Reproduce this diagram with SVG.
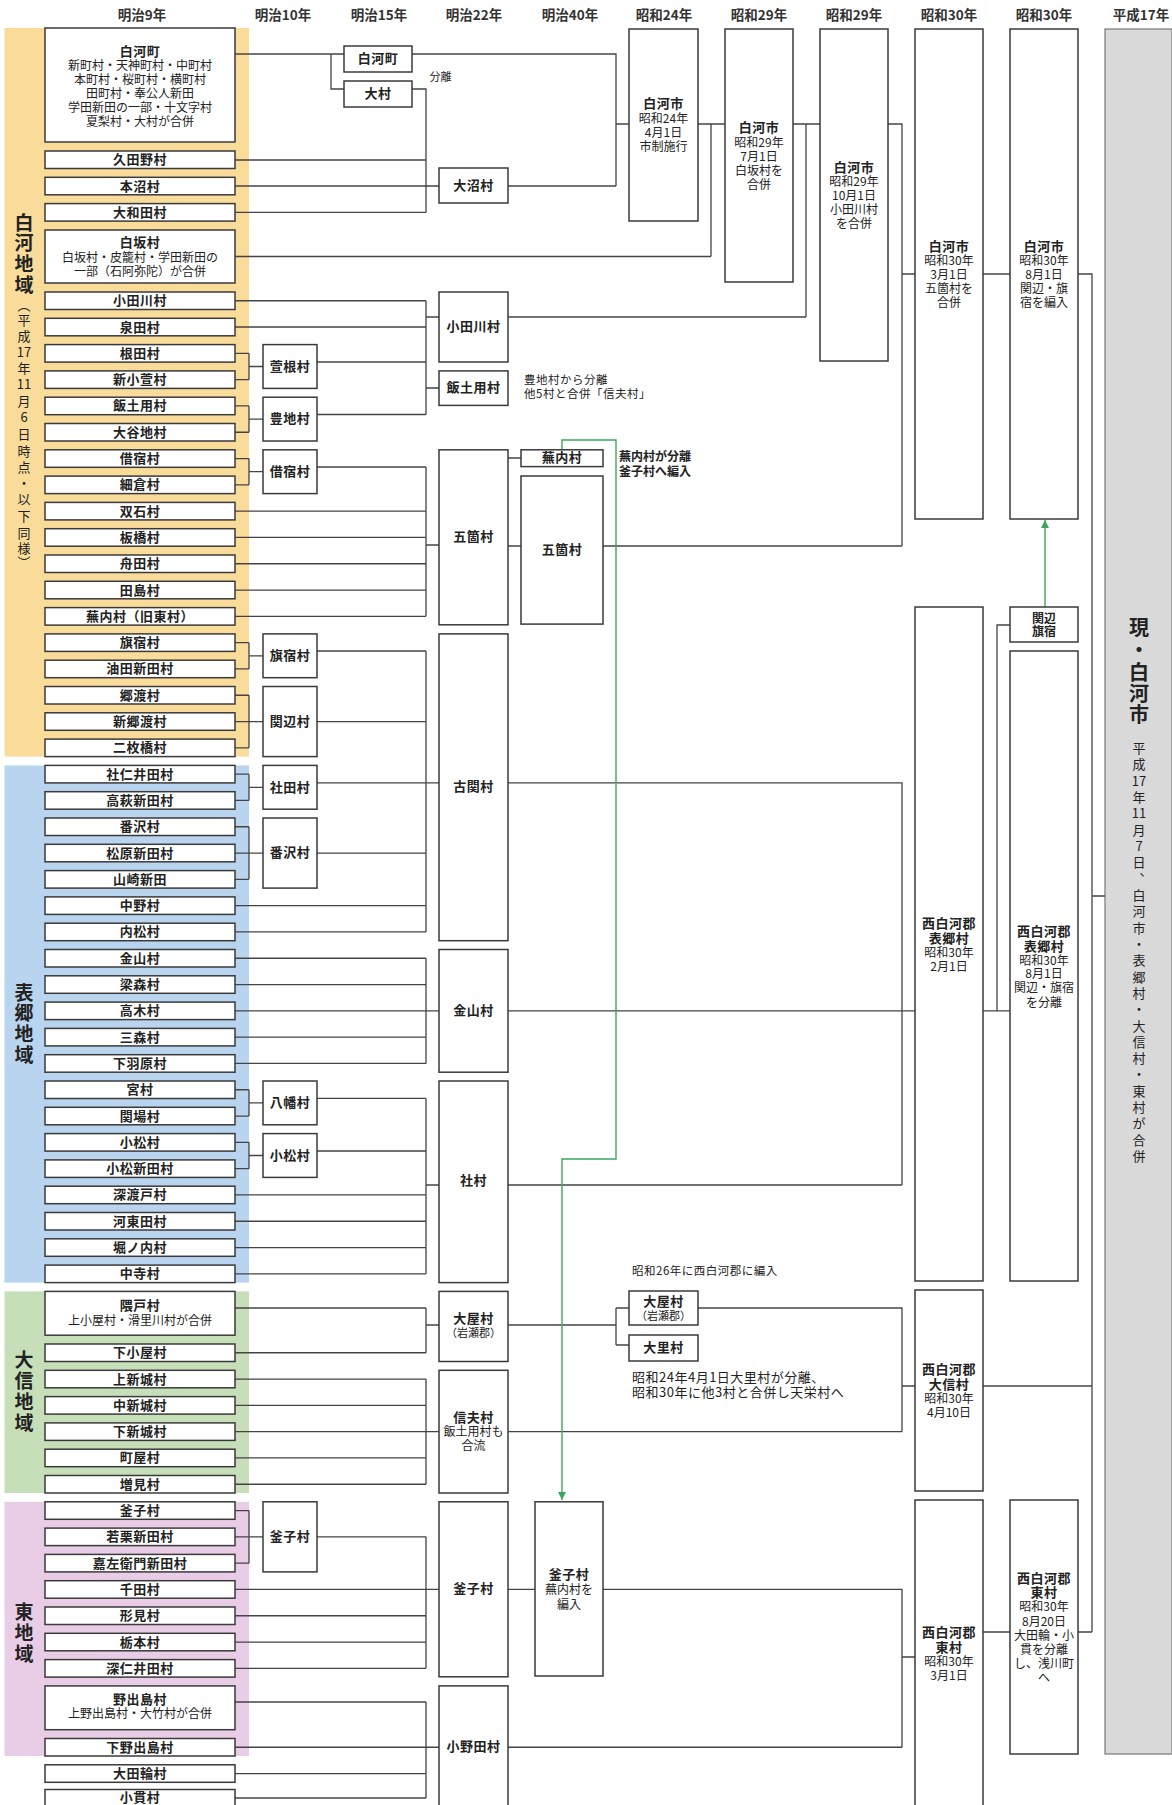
<svg xmlns="http://www.w3.org/2000/svg" width="1172" height="1805" viewBox="0 0 1172 1805">
<defs>
<style>
text,tspan{font-family:"Noto Sans CJK JP","Noto Sans CJK SC",sans-serif;fill:#222;text-anchor:middle;dominant-baseline:central}
text{transform:translateY(-1.2px)}
.bx{fill:#fff;stroke:#3a3a3a;stroke-width:1.5}
.t{font-size:13px;font-weight:700;letter-spacing:.5px}
.s{font-size:12px;font-weight:400;letter-spacing:0}
.sb{font-size:12px;font-weight:700}
.s11{font-size:11px;font-weight:400;letter-spacing:0}
.h{font-size:13.5px;font-weight:700;fill:#333}
.r{font-size:19px;font-weight:700}
.rg{font-size:20px;font-weight:700}
.rv{font-size:13px;font-weight:400}
.an{font-size:11.5px;text-anchor:start;letter-spacing:.5px}
.anb{font-size:12px;font-weight:700;text-anchor:start}
.an2{font-size:13px;text-anchor:start;letter-spacing:.5px}
.cn{fill:none;stroke:#444;stroke-width:1.3}
.gl{fill:none;stroke:#3aa85c;stroke-width:1.4}
</style>
<marker id="ag" viewBox="0 0 10 10" refX="10" refY="5" markerWidth="8" markerHeight="8" orient="auto" markerUnits="userSpaceOnUse"><path d="M0,0 L10,5 L0,10z" fill="#3aa85c"/></marker>
</defs>
<rect width="1172" height="1805" fill="#fff"/>

<g id="bands">
<rect x="4.5" y="28" width="244.5" height="728.6" fill="#f9dc9a"/>
<rect x="4.5" y="765.4" width="244.5" height="517.2" fill="#b8d4ee"/>
<rect x="4.5" y="1291.4" width="244.5" height="201.6" fill="#c6dfb8"/>
<rect x="4.5" y="1501.8" width="244.5" height="254.2" fill="#e9cce5"/>
<rect x="1105" y="29" width="67" height="1725" fill="#d9d9d9" stroke="#777" stroke-width="1.2"/>
</g>

<g id="headers">
<text class="h" x="142" y="15">明治9年</text>
<text class="h" x="283" y="15">明治10年</text>
<text class="h" x="379" y="15">明治15年</text>
<text class="h" x="474" y="15">明治22年</text>
<text class="h" x="570" y="15">明治40年</text>
<text class="h" x="664" y="15">昭和24年</text>
<text class="h" x="759" y="15">昭和29年</text>
<text class="h" x="854" y="15">昭和29年</text>
<text class="h" x="949" y="15">昭和30年</text>
<text class="h" x="1044" y="15">昭和30年</text>
<text class="h" x="1141" y="15">平成17年</text>
</g>

<g id="region-labels">
<text class="r"><tspan class="r" x="24" y="222">白</tspan><tspan class="r" x="24" y="242">河</tspan><tspan class="r" x="24" y="263">地</tspan><tspan class="r" x="24" y="284">域</tspan><tspan class="rv" x="24" y="305">︵</tspan><tspan class="rv" x="24" y="320">平</tspan><tspan class="rv" x="24" y="336">成</tspan><tspan class="rv" x="24" y="352">17</tspan><tspan class="rv" x="24" y="368">年</tspan><tspan class="rv" x="24" y="384">11</tspan><tspan class="rv" x="24" y="401">月</tspan><tspan class="rv" x="24" y="417">6</tspan><tspan class="rv" x="24" y="434">日</tspan><tspan class="rv" x="24" y="451">時</tspan><tspan class="rv" x="24" y="467">点</tspan><tspan class="rv" x="24" y="483">・</tspan><tspan class="rv" x="24" y="499">以</tspan><tspan class="rv" x="24" y="516">下</tspan><tspan class="rv" x="24" y="533">同</tspan><tspan class="rv" x="24" y="548">様</tspan><tspan class="rv" x="24" y="562">︶</tspan></text>
<text class="r"><tspan class="r" x="24" y="992">表</tspan><tspan class="r" x="24" y="1012">郷</tspan><tspan class="r" x="24" y="1033">地</tspan><tspan class="r" x="24" y="1054">域</tspan></text>
<text class="r"><tspan class="r" x="24" y="1359">大</tspan><tspan class="r" x="24" y="1380">信</tspan><tspan class="r" x="24" y="1401">地</tspan><tspan class="r" x="24" y="1422">域</tspan></text>
<text class="r"><tspan class="r" x="24" y="1611">東</tspan><tspan class="r" x="24" y="1632">地</tspan><tspan class="r" x="24" y="1653">域</tspan></text>
</g>

<g id="connectors">
<path class="cn" d="M235,54 H344 M331,54 V89 H344 M412,54 H616 V186 M508,186 H616 M616,124 H629"/>
<path class="cn" d="M412,89 H426 V212.4 M235,160 H426 M235,186 H439 M235,212.4 H426"/>
<path class="cn" d="M235,256.5 H711 M698,124 H725 M711,124 V256.5"/>
<path class="cn" d="M793,124 H820 M806,124 V317 M508,317 H806"/>
<path class="cn" d="M888,124 H902 V546 M902,274 H915 M603,546 H902"/>
<path class="cn" d="M983,274 H1010 M1078,274 H1092 V1632 M1092,896 H1105 M983,1386 H1092 M1078,1632 H1092"/>
<path class="cn" d="M235,300.75 H426 M235,327 H426 M317,362 H426 M317,414.5 H426 M426,300.75 V414.5 M426,317 H439 M426,388 H439"/>
<path class="cn" d="M235,353.35 H249 M235,379.65 H249 M249,353.35 V379.65 M249,366.5 H263"/>
<path class="cn" d="M235,405.95 H249 M235,432.25 H249 M249,405.95 V432.25 M249,419.1 H263"/>
<path class="cn" d="M235,458.55 H249 M235,484.85 H249 M249,458.55 V484.85 M249,471.7 H263"/>
<path class="cn" d="M317,467 H426 M235,511.15 H426 M235,537.45 H426 M235,563.75 H426 M235,590.05 H426 M235,616.35 H426 M426,467 V616.35 M426,545 H439 M508,458 H521 M508,546 H521"/>
<path class="cn" d="M235,642.65 H249 M235,668.95 H249 M249,642.65 V668.95 M249,655.8 H263 M317,651 H426"/>
<path class="cn" d="M235,695.25 H249 M235,721.55 H263 M235,747.85 H249 M249,695.25 V747.85 M317,721.55 H426"/>
<path class="cn" d="M235,774.15 H249 M235,800.45 H249 M249,774.15 V800.45 M249,787.3 H263 M317,782.8 H439"/>
<path class="cn" d="M235,826.75 H249 M235,853.05 H263 M235,879.35 H249 M249,826.75 V879.35 M317,853.05 H426"/>
<path class="cn" d="M235,905.65 H426 M235,931.95 H426 M426,651 V931.95 M508,782.8 H902 V1185"/>
<path class="cn" d="M235,958.25 H426 M235,984.55 H426 M235,1010.85 H439 M235,1037.15 H426 M235,1063.45 H426 M426,958.25 V1063.45 M508,1010.85 H915"/>
<path class="cn" d="M235,1089.75 H249 M235,1116.05 H249 M249,1089.75 V1116.05 M249,1102.9 H263 M317,1098.4 H426"/>
<path class="cn" d="M235,1142.35 H249 M235,1168.65 H249 M249,1142.35 V1168.65 M249,1155.5 H263 M317,1151 H426"/>
<path class="cn" d="M235,1194.95 H426 M235,1221.25 H426 M235,1247.55 H426 M235,1273.85 H426 M426,1098.4 V1273.85 M426,1185 H439 M508,1185 H902"/>
<path class="cn" d="M235,1308 H426 M235,1352.75 H426 M426,1308 V1352.75 M426,1325 H439 M508,1325 H616 M616,1308 V1345 M616,1308 H629 M616,1345 H629 M698,1308 H902 V1431.65 M902,1386 H915"/>
<path class="cn" d="M235,1379.05 H426 M235,1405.35 H426 M235,1431.65 H439 M235,1457.95 H426 M235,1484.25 H426 M426,1379.05 V1484.25 M508,1431.65 H902"/>
<path class="cn" d="M235,1510.55 H249 M235,1536.85 H263 M235,1563.15 H249 M249,1510.55 V1563.15 M317,1536.85 H426"/>
<path class="cn" d="M235,1589.45 H439 M235,1615.75 H426 M235,1642.05 H426 M235,1668.35 H426 M426,1536.85 V1668.35 M508,1589.45 H535 M603,1589.45 H902 V1747.25 M902,1657 H915"/>
<path class="cn" d="M235,1702 H426 M235,1747.25 H439 M235,1773.55 H426 M235,1798 H426 M426,1702 V1798 M508,1747.25 H902"/>
<path class="cn" d="M983,1010.85 H1010 M997,1010.85 V625 H1010 M983,1632 H1010"/>
<path class="gl" d="M562,449.8 V440 H616 V1159 H562 V1500" marker-end="url(#ag)"/>
<path class="gl" d="M1045,607 V520" marker-end="url(#ag)"/>
</g>

<g id="annotations">
<text class="s11" x="440.5" y="77">分離</text>
<text class="an" x="524" y="380">豊地村から分離</text>
<text class="an" x="524" y="394">他5村と合併「信夫村」</text>
<text class="anb" x="619" y="457">蕪内村が分離</text>
<text class="anb" x="619" y="472">釜子村へ編入</text>
<text class="an" x="632" y="1271">昭和26年に西白河郡に編入</text>
<text class="an2" x="632" y="1378">昭和24年4月1日大里村が分離、</text>
<text class="an2" x="632" y="1393">昭和30年に他3村と合併し天栄村へ</text>
</g>

<g id="m9-01"><rect class="bx" x="45" y="28" width="190" height="114"/><text class="s"><tspan class="t" x="140" y="51">白河町</tspan><tspan class="s" x="140" y="65">新町村・天神町村・中町村</tspan><tspan class="s" x="140" y="79">本町村・桜町村・横町村</tspan><tspan class="s" x="140" y="93">田町村・奉公人新田</tspan><tspan class="s" x="140" y="107">学田新田の一部・十文字村</tspan><tspan class="s" x="140" y="121">夏梨村・大村が合併</tspan></text></g>
<g id="m9-02"><rect class="bx" x="45" y="151" width="190" height="17.5"/><text class="t" x="140" y="160">久田野村</text></g>
<g id="m9-03"><rect class="bx" x="45" y="177.3" width="190" height="17.5"/><text class="t" x="140" y="186.3">本沼村</text></g>
<g id="m9-04"><rect class="bx" x="45" y="203.6" width="190" height="17.5"/><text class="t" x="140" y="212.6">大和田村</text></g>
<g id="m9-05"><rect class="bx" x="45" y="230" width="190" height="53"/><text class="s"><tspan class="t" x="140" y="242">白坂村</tspan><tspan class="s" x="140" y="257">白坂村・皮籠村・学田新田の</tspan><tspan class="s" x="140" y="271">一部（石阿弥陀）が合併</tspan></text></g>
<g id="m9-06"><rect class="bx" x="45" y="292" width="190" height="17.5"/><text class="t" x="140" y="301">小田川村</text></g>
<g id="m9-07"><rect class="bx" x="45" y="318.3" width="190" height="17.5"/><text class="t" x="140" y="327.3">泉田村</text></g>
<g id="m9-08"><rect class="bx" x="45" y="344.6" width="190" height="17.5"/><text class="t" x="140" y="353.6">根田村</text></g>
<g id="m9-09"><rect class="bx" x="45" y="370.9" width="190" height="17.5"/><text class="t" x="140" y="379.9">新小萱村</text></g>
<g id="m9-10"><rect class="bx" x="45" y="397.2" width="190" height="17.5"/><text class="t" x="140" y="406.2">飯土用村</text></g>
<g id="m9-11"><rect class="bx" x="45" y="423.5" width="190" height="17.5"/><text class="t" x="140" y="432.5">大谷地村</text></g>
<g id="m9-12"><rect class="bx" x="45" y="449.8" width="190" height="17.5"/><text class="t" x="140" y="458.8">借宿村</text></g>
<g id="m9-13"><rect class="bx" x="45" y="476.1" width="190" height="17.5"/><text class="t" x="140" y="485.1">細倉村</text></g>
<g id="m9-14"><rect class="bx" x="45" y="502.4" width="190" height="17.5"/><text class="t" x="140" y="511.4">双石村</text></g>
<g id="m9-15"><rect class="bx" x="45" y="528.7" width="190" height="17.5"/><text class="t" x="140" y="537.7">板橋村</text></g>
<g id="m9-16"><rect class="bx" x="45" y="555" width="190" height="17.5"/><text class="t" x="140" y="564">舟田村</text></g>
<g id="m9-17"><rect class="bx" x="45" y="581.3" width="190" height="17.5"/><text class="t" x="140" y="590.3">田島村</text></g>
<g id="m9-18"><rect class="bx" x="45" y="607.6" width="190" height="17.5"/><text class="t" x="140" y="616.6">蕪内村（旧東村）</text></g>
<g id="m9-19"><rect class="bx" x="45" y="633.9" width="190" height="17.5"/><text class="t" x="140" y="642.9">旗宿村</text></g>
<g id="m9-20"><rect class="bx" x="45" y="660.2" width="190" height="17.5"/><text class="t" x="140" y="669.2">油田新田村</text></g>
<g id="m9-21"><rect class="bx" x="45" y="686.5" width="190" height="17.5"/><text class="t" x="140" y="695.5">郷渡村</text></g>
<g id="m9-22"><rect class="bx" x="45" y="712.8" width="190" height="17.5"/><text class="t" x="140" y="721.8">新郷渡村</text></g>
<g id="m9-23"><rect class="bx" x="45" y="739.1" width="190" height="17.5"/><text class="t" x="140" y="748.1">二枚橋村</text></g>
<g id="m9-24"><rect class="bx" x="45" y="765.4" width="190" height="17.5"/><text class="t" x="140" y="774.4">社仁井田村</text></g>
<g id="m9-25"><rect class="bx" x="45" y="791.7" width="190" height="17.5"/><text class="t" x="140" y="800.7">高萩新田村</text></g>
<g id="m9-26"><rect class="bx" x="45" y="818" width="190" height="17.5"/><text class="t" x="140" y="827">番沢村</text></g>
<g id="m9-27"><rect class="bx" x="45" y="844.3" width="190" height="17.5"/><text class="t" x="140" y="853.3">松原新田村</text></g>
<g id="m9-28"><rect class="bx" x="45" y="870.6" width="190" height="17.5"/><text class="t" x="140" y="879.6">山崎新田</text></g>
<g id="m9-29"><rect class="bx" x="45" y="896.9" width="190" height="17.5"/><text class="t" x="140" y="905.9">中野村</text></g>
<g id="m9-30"><rect class="bx" x="45" y="923.2" width="190" height="17.5"/><text class="t" x="140" y="932.2">内松村</text></g>
<g id="m9-31"><rect class="bx" x="45" y="949.5" width="190" height="17.5"/><text class="t" x="140" y="958.5">金山村</text></g>
<g id="m9-32"><rect class="bx" x="45" y="975.8" width="190" height="17.5"/><text class="t" x="140" y="984.8">梁森村</text></g>
<g id="m9-33"><rect class="bx" x="45" y="1002.1" width="190" height="17.5"/><text class="t" x="140" y="1011.1">高木村</text></g>
<g id="m9-34"><rect class="bx" x="45" y="1028.4" width="190" height="17.5"/><text class="t" x="140" y="1037.4">三森村</text></g>
<g id="m9-35"><rect class="bx" x="45" y="1054.7" width="190" height="17.5"/><text class="t" x="140" y="1063.7">下羽原村</text></g>
<g id="m9-36"><rect class="bx" x="45" y="1081" width="190" height="17.5"/><text class="t" x="140" y="1090">宮村</text></g>
<g id="m9-37"><rect class="bx" x="45" y="1107.3" width="190" height="17.5"/><text class="t" x="140" y="1116.3">関場村</text></g>
<g id="m9-38"><rect class="bx" x="45" y="1133.6" width="190" height="17.5"/><text class="t" x="140" y="1142.6">小松村</text></g>
<g id="m9-39"><rect class="bx" x="45" y="1159.9" width="190" height="17.5"/><text class="t" x="140" y="1168.9">小松新田村</text></g>
<g id="m9-40"><rect class="bx" x="45" y="1186.2" width="190" height="17.5"/><text class="t" x="140" y="1195.2">深渡戸村</text></g>
<g id="m9-41"><rect class="bx" x="45" y="1212.5" width="190" height="17.5"/><text class="t" x="140" y="1221.5">河東田村</text></g>
<g id="m9-42"><rect class="bx" x="45" y="1238.8" width="190" height="17.5"/><text class="t" x="140" y="1247.8">堀ノ内村</text></g>
<g id="m9-43"><rect class="bx" x="45" y="1265.1" width="190" height="17.5"/><text class="t" x="140" y="1274.1">中寺村</text></g>
<g id="m9-44"><rect class="bx" x="45" y="1291.4" width="190" height="43.8"/><text class="s"><tspan class="t" x="140" y="1305">隈戸村</tspan><tspan class="s" x="140" y="1320">上小屋村・滑里川村が合併</tspan></text></g>
<g id="m9-45"><rect class="bx" x="45" y="1344" width="190" height="17.5"/><text class="t" x="140" y="1353">下小屋村</text></g>
<g id="m9-46"><rect class="bx" x="45" y="1370.3" width="190" height="17.5"/><text class="t" x="140" y="1379.3">上新城村</text></g>
<g id="m9-47"><rect class="bx" x="45" y="1396.6" width="190" height="17.5"/><text class="t" x="140" y="1405.6">中新城村</text></g>
<g id="m9-48"><rect class="bx" x="45" y="1422.9" width="190" height="17.5"/><text class="t" x="140" y="1431.9">下新城村</text></g>
<g id="m9-49"><rect class="bx" x="45" y="1449.2" width="190" height="17.5"/><text class="t" x="140" y="1458.2">町屋村</text></g>
<g id="m9-50"><rect class="bx" x="45" y="1475.5" width="190" height="17.5"/><text class="t" x="140" y="1484.5">増見村</text></g>
<g id="m9-51"><rect class="bx" x="45" y="1501.8" width="190" height="17.5"/><text class="t" x="140" y="1510.8">釜子村</text></g>
<g id="m9-52"><rect class="bx" x="45" y="1528.1" width="190" height="17.5"/><text class="t" x="140" y="1537.1">若栗新田村</text></g>
<g id="m9-53"><rect class="bx" x="45" y="1554.4" width="190" height="17.5"/><text class="t" x="140" y="1563.4">嘉左衛門新田村</text></g>
<g id="m9-54"><rect class="bx" x="45" y="1580.7" width="190" height="17.5"/><text class="t" x="140" y="1589.7">千田村</text></g>
<g id="m9-55"><rect class="bx" x="45" y="1607" width="190" height="17.5"/><text class="t" x="140" y="1616">形見村</text></g>
<g id="m9-56"><rect class="bx" x="45" y="1633.3" width="190" height="17.5"/><text class="t" x="140" y="1642.3">栃本村</text></g>
<g id="m9-57"><rect class="bx" x="45" y="1659.6" width="190" height="17.5"/><text class="t" x="140" y="1668.6">深仁井田村</text></g>
<g id="m9-58"><rect class="bx" x="45" y="1685.9" width="190" height="43.8"/><text class="s"><tspan class="t" x="140" y="1699">野出島村</tspan><tspan class="s" x="140" y="1713">上野出島村・大竹村が合併</tspan></text></g>
<g id="m9-59"><rect class="bx" x="45" y="1738.5" width="190" height="17.5"/><text class="t" x="140" y="1747.5">下野出島村</text></g>
<g id="m9-60"><rect class="bx" x="45" y="1764.8" width="190" height="17.5"/><text class="t" x="140" y="1773.8">大田輪村</text></g>
<g id="m9-61"><rect class="bx" x="45" y="1789.5" width="190" height="17.5"/><text class="t" x="140" y="1797.5">小貫村</text></g>

<g id="m10-kayane"><rect class="bx" x="263" y="344.6" width="54" height="43.8"/><text class="t" x="290" y="366.5">萱根村</text></g>
<g id="m10-toyochi"><rect class="bx" x="263" y="397.2" width="54" height="43.8"/><text class="t" x="290" y="419.1">豊地村</text></g>
<g id="m10-karijuku"><rect class="bx" x="263" y="449.8" width="54" height="43.8"/><text class="t" x="290" y="471.7">借宿村</text></g>
<g id="m10-hatajuku"><rect class="bx" x="263" y="633.9" width="54" height="43.8"/><text class="t" x="290" y="655.8">旗宿村</text></g>
<g id="m10-sekibe"><rect class="bx" x="263" y="686.5" width="54" height="70.1"/><text class="t" x="290" y="721.5">関辺村</text></g>
<g id="m10-yashirota"><rect class="bx" x="263" y="765.4" width="54" height="43.8"/><text class="t" x="290" y="787.3">社田村</text></g>
<g id="m10-bansawa"><rect class="bx" x="263" y="818" width="54" height="70.1"/><text class="t" x="290" y="853">番沢村</text></g>
<g id="m10-yawata"><rect class="bx" x="263" y="1081" width="54" height="43.8"/><text class="t" x="290" y="1102.9">八幡村</text></g>
<g id="m10-komatsu"><rect class="bx" x="263" y="1133.6" width="54" height="43.8"/><text class="t" x="290" y="1155.5">小松村</text></g>
<g id="m10-kamako"><rect class="bx" x="263" y="1501.8" width="54" height="70.1"/><text class="t" x="290" y="1536.8">釜子村</text></g>

<g id="m15-shirakawa"><rect class="bx" x="344" y="46" width="68" height="26"/><text class="t" x="378" y="59">白河町</text></g>
<g id="m15-omura"><rect class="bx" x="344" y="81" width="68" height="26"/><text class="t" x="378" y="94">大村</text></g>

<g id="m22-onuma"><rect class="bx" x="439" y="168" width="69" height="35"/><text class="t" x="473.5" y="186">大沼村</text></g>
<g id="m22-odagawa"><rect class="bx" x="439" y="292" width="69" height="70"/><text class="t" x="473.5" y="327">小田川村</text></g>
<g id="m22-iidoi"><rect class="bx" x="439" y="370.9" width="69" height="34.5"/><text class="t" x="473.5" y="388">飯土用村</text></g>
<g id="m22-goka"><rect class="bx" x="439" y="449.8" width="69" height="175"/><text class="t" x="473.5" y="537">五箇村</text></g>
<g id="m22-koseki"><rect class="bx" x="439" y="633.9" width="69" height="306.8"/><text class="t" x="473.5" y="787">古関村</text></g>
<g id="m22-kanayama"><rect class="bx" x="439" y="949.5" width="69" height="122.7"/><text class="t" x="473.5" y="1011">金山村</text></g>
<g id="m22-yashiro"><rect class="bx" x="439" y="1081" width="69" height="201.6"/><text class="t" x="473.5" y="1181">社村</text></g>
<g id="m22-oya"><rect class="bx" x="439" y="1291.4" width="69" height="70.1"/><text class="s"><tspan class="t" x="473.5" y="1318">大屋村</tspan><tspan class="s11" x="473.5" y="1333">（岩瀬郡）</tspan></text></g>
<g id="m22-shinobu"><rect class="bx" x="439" y="1370.3" width="69" height="122.7"/><text class="s"><tspan class="t" x="473.5" y="1417">信夫村</tspan><tspan class="s" x="473.5" y="1431">飯土用村も</tspan><tspan class="s" x="473.5" y="1445">合流</tspan></text></g>
<g id="m22-kamako"><rect class="bx" x="439" y="1501.8" width="69" height="175"/><text class="t" x="473.5" y="1589">釜子村</text></g>
<g id="m22-onoda"><rect class="bx" x="439" y="1685.9" width="69" height="125"/><text class="t" x="473.5" y="1747">小野田村</text></g>

<g id="m40-kabauchi"><rect class="bx" x="521" y="449.8" width="82" height="16.8"/><text class="t" x="562" y="458.2">蕪内村</text></g>
<g id="m40-goka"><rect class="bx" x="521" y="476" width="82" height="148.1"/><text class="t" x="562" y="550">五箇村</text></g>
<g id="m40-kamako"><rect class="bx" x="535" y="1501.8" width="68" height="174.2"/><text class="s"><tspan class="t" x="569" y="1574">釜子村</tspan><tspan class="s" x="569" y="1589">蕪内村を</tspan><tspan class="s" x="569" y="1604">編入</tspan></text></g>

<g id="s24-shirakawa"><rect class="bx" x="629" y="29" width="69" height="192"/><text class="s"><tspan class="t" x="663.5" y="103">白河市</tspan><tspan class="s" x="663.5" y="118">昭和24年</tspan><tspan class="s" x="663.5" y="132">4月1日</tspan><tspan class="s" x="663.5" y="146">市制施行</tspan></text></g>
<g id="s24-oya"><rect class="bx" x="629" y="1291" width="69" height="34"/><text class="s"><tspan class="t" x="663.5" y="1301">大屋村</tspan><tspan class="s11" x="663.5" y="1316">（岩瀬郡）</tspan></text></g>
<g id="s24-osato"><rect class="bx" x="629" y="1335" width="69" height="26"/><text class="t" x="663.5" y="1348">大里村</text></g>

<g id="s29a-shirakawa"><rect class="bx" x="725" y="29" width="68" height="253"/><text class="s"><tspan class="t" x="759" y="127">白河市</tspan><tspan class="s" x="759" y="142">昭和29年</tspan><tspan class="s" x="759" y="156">7月1日</tspan><tspan class="s" x="759" y="170">白坂村を</tspan><tspan class="s" x="759" y="184">合併</tspan></text></g>
<g id="s29b-shirakawa"><rect class="bx" x="820" y="29" width="68" height="332"/><text class="s"><tspan class="t" x="854" y="167">白河市</tspan><tspan class="s" x="854" y="181">昭和29年</tspan><tspan class="s" x="854" y="195">10月1日</tspan><tspan class="s" x="854" y="209">小田川村</tspan><tspan class="s" x="854" y="223">を合併</tspan></text></g>

<g id="s30a-shirakawa"><rect class="bx" x="915" y="29" width="68" height="490"/><text class="s"><tspan class="t" x="949" y="246">白河市</tspan><tspan class="s" x="949" y="260">昭和30年</tspan><tspan class="s" x="949" y="274">3月1日</tspan><tspan class="s" x="949" y="288">五箇村を</tspan><tspan class="s" x="949" y="302">合併</tspan></text></g>
<g id="s30a-omotego"><rect class="bx" x="915" y="607" width="68" height="674"/><text class="s"><tspan class="t" x="949" y="923">西白河郡</tspan><tspan class="t" x="949" y="938">表郷村</tspan><tspan class="s" x="949" y="952">昭和30年</tspan><tspan class="s" x="949" y="966">2月1日</tspan></text></g>
<g id="s30a-taishin"><rect class="bx" x="915" y="1290" width="68" height="201"/><text class="s"><tspan class="t" x="949" y="1369">西白河郡</tspan><tspan class="t" x="949" y="1384">大信村</tspan><tspan class="s" x="949" y="1398">昭和30年</tspan><tspan class="s" x="949" y="1412">4月10日</tspan></text></g>
<g id="s30a-higashi"><rect class="bx" x="915" y="1500" width="68" height="320"/><text class="s"><tspan class="t" x="949" y="1632">西白河郡</tspan><tspan class="t" x="949" y="1647">東村</tspan><tspan class="s" x="949" y="1661">昭和30年</tspan><tspan class="s" x="949" y="1675">3月1日</tspan></text></g>

<g id="s30b-shirakawa"><rect class="bx" x="1010" y="29" width="68" height="490"/><text class="s"><tspan class="t" x="1044" y="246">白河市</tspan><tspan class="s" x="1044" y="260">昭和30年</tspan><tspan class="s" x="1044" y="274">8月1日</tspan><tspan class="s" x="1044" y="288">関辺・旗</tspan><tspan class="s" x="1044" y="302">宿を編入</tspan></text></g>
<g id="s30b-sekibe-hatajuku"><rect class="bx" x="1010" y="607" width="68" height="35"/><text class="sb"><tspan class="sb" x="1044" y="618">関辺</tspan><tspan class="sb" x="1044" y="631">旗宿</tspan></text></g>
<g id="s30b-omotego"><rect class="bx" x="1010" y="651" width="68" height="630"/><text class="s"><tspan class="t" x="1044" y="931">西白河郡</tspan><tspan class="t" x="1044" y="946">表郷村</tspan><tspan class="s" x="1044" y="960">昭和30年</tspan><tspan class="s" x="1044" y="973">8月1日</tspan><tspan class="s" x="1044" y="987">関辺・旗宿</tspan><tspan class="s" x="1044" y="1002">を分離</tspan></text></g>
<g id="s30b-higashi"><rect class="bx" x="1010" y="1500" width="68" height="254"/><text class="s"><tspan class="t" x="1044" y="1578">西白河郡</tspan><tspan class="t" x="1044" y="1592">東村</tspan><tspan class="s" x="1044" y="1606">昭和30年</tspan><tspan class="s" x="1044" y="1621">8月20日</tspan><tspan class="s" x="1044" y="1635">大田輪・小</tspan><tspan class="s" x="1044" y="1649">貫を分離</tspan><tspan class="s" x="1044" y="1663">し、浅川町</tspan><tspan class="s" x="1044" y="1677">へ</tspan></text></g>

<g id="h17-shirakawa">
<text class="rg"><tspan class="rg" x="1139" y="627">現</tspan><tspan class="rg" x="1139" y="649">・</tspan><tspan class="rg" x="1139" y="672">白</tspan><tspan class="rg" x="1139" y="693">河</tspan><tspan class="rg" x="1139" y="714">市</tspan><tspan class="rv" x="1139" y="748">平</tspan><tspan class="rv" x="1139" y="764">成</tspan><tspan class="rv" x="1139" y="781">17</tspan><tspan class="rv" x="1139" y="797">年</tspan><tspan class="rv" x="1139" y="813">11</tspan><tspan class="rv" x="1139" y="830">月</tspan><tspan class="rv" x="1139" y="846">7</tspan><tspan class="rv" x="1139" y="862">日</tspan><tspan class="rv" x="1146" y="870">、</tspan><tspan class="rv" x="1139" y="895">白</tspan><tspan class="rv" x="1139" y="911">河</tspan><tspan class="rv" x="1139" y="928">市</tspan><tspan class="rv" x="1139" y="944">・</tspan><tspan class="rv" x="1139" y="960">表</tspan><tspan class="rv" x="1139" y="977">郷</tspan><tspan class="rv" x="1139" y="993">村</tspan><tspan class="rv" x="1139" y="1009">・</tspan><tspan class="rv" x="1139" y="1026">大</tspan><tspan class="rv" x="1139" y="1042">信</tspan><tspan class="rv" x="1139" y="1058">村</tspan><tspan class="rv" x="1139" y="1074">・</tspan><tspan class="rv" x="1139" y="1091">東</tspan><tspan class="rv" x="1139" y="1107">村</tspan><tspan class="rv" x="1139" y="1123">が</tspan><tspan class="rv" x="1139" y="1140">合</tspan><tspan class="rv" x="1139" y="1156">併</tspan></text>
</g>
</svg>
